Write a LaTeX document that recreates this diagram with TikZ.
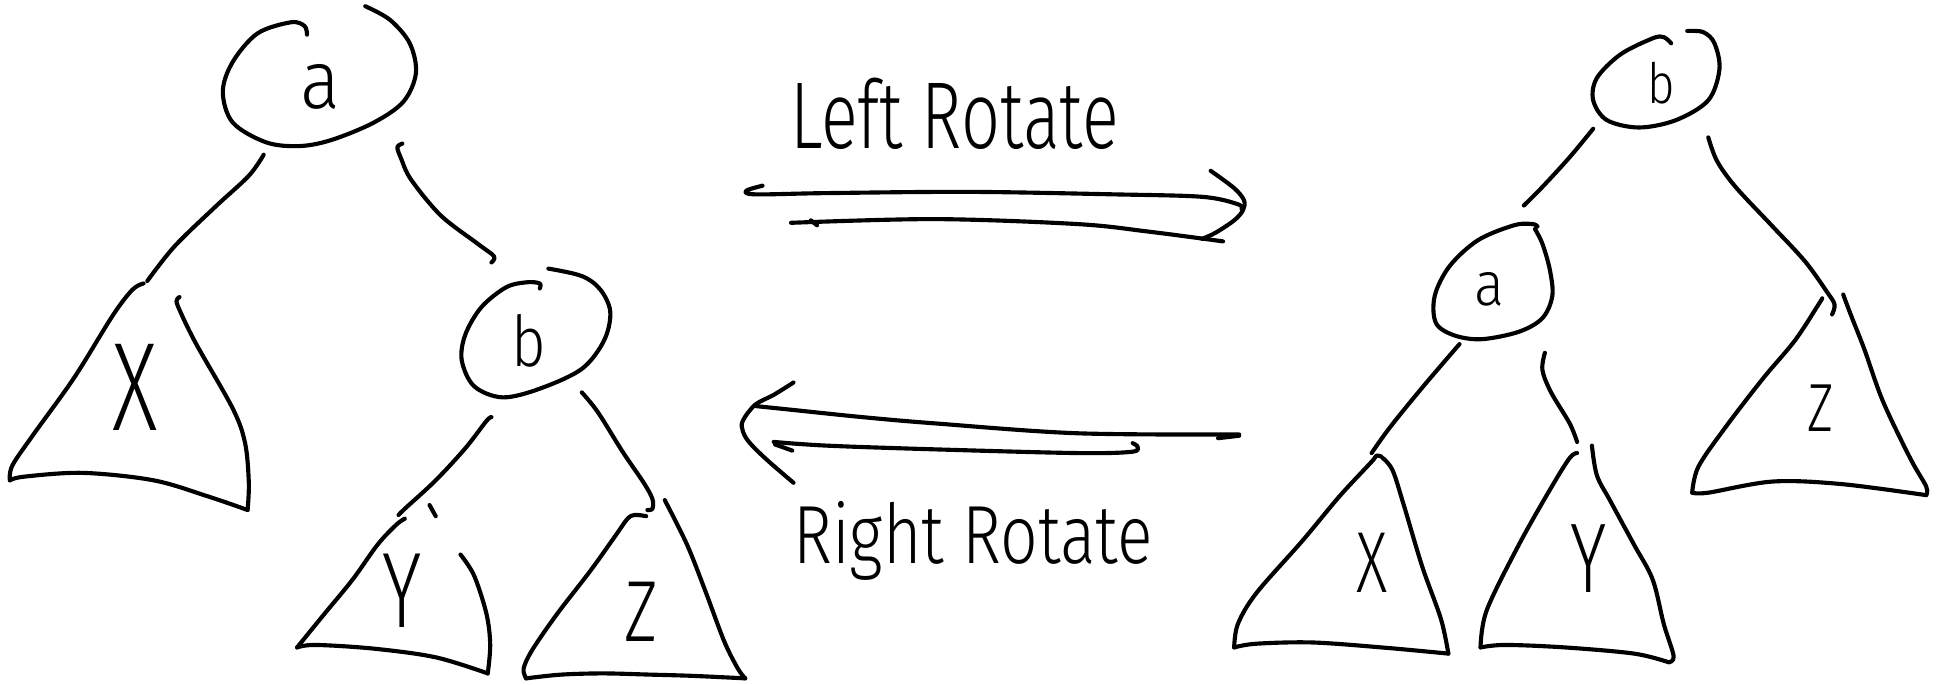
\documentclass[tikz,border=0pt]{standalone}
\usepackage{fontspec}
\setmainfont{Fira Sans Light}
\newcommand{\hw}[3]{\fontsize{#1}{#1}\selectfont\scalebox{#2}[1]{#3}}
\begin{document}
\begin{tikzpicture}[x=0.6pt,y=-0.6pt,
  sk/.style={line width=2pt,line cap=round,line join=round},
  lbl/.style={inner sep=0pt,outer sep=0pt}]
\useasboundingbox[fill=white] (0,0) rectangle (1568,553);

% ---------- left tree ----------
\node[lbl] (La) at (259,70) {\hw{40}{0.9}{a}};
\draw[sk] plot[smooth,tension=0.55] coordinates {(248,28) (246,21) (235,18) (208,27) (188,50) (180,74) (188,99) (215,115) (242,118) (268,113) (302,99) (326,82) (336,59) (331,35) (315,16) (295,5)};
\node[lbl] (Lb) at (427,275) {\hw{34}{0.85}{b}};
\draw[sk] plot[smooth,tension=0.55] coordinates {(436,233) (436,229) (426,228) (409,232) (389,248) (376,270) (373,291) (383,312) (406,321) (436,314) (470,298) (488,275) (493,252) (485,234) (470,223) (443,217)};

\coordinate (LaL1) at (213,125); \coordinate (LaL2) at (119,227);
\draw[sk] plot[smooth,tension=0.55] coordinates {(LaL1) (201,142) (174,167) (141,199) (LaL2)};
\coordinate (LaR1) at (325,116); \coordinate (LaR2) at (397,212);
\draw[sk] plot[smooth,tension=0.55] coordinates {(LaR1) (321,119) (324,128) (332,145) (356,174) (386,197) (399,207) (LaR2)};

% X subtree
\draw[sk] plot[smooth,tension=0.55] coordinates {(116,229) (107,234) (91,255) (60,305) (27,351) (10,376) (8,388)};
\draw[sk] plot[smooth,tension=0.55] coordinates {(8,388) (20,385) (67,382) (124,388) (168,401) (200,412)};
\draw[sk] plot[smooth,tension=0.55] coordinates {(200,412) (201,390) (198,358) (188,330) (158,277) (144,248) (143,242) (145,240)};
\node[lbl] (LX) at (109,313) {\hw{61}{0.7}{X}};

% b -> Y
\coordinate (LbL1) at (397,337); \coordinate (LbL2) at (322,416);
\draw[sk] plot[smooth,tension=0.55] coordinates {(LbL1) (393,340) (376,362) (352,388) (327,411) (LbL2)};
\draw[sk] (347,408) -- (352,417);
\draw[sk] plot[smooth,tension=0.55] coordinates {(327,419) (320,424) (305,440) (285,468) (262,496) (240,523)};
\draw[sk] plot[smooth,tension=0.55] coordinates {(240,523) (255,521) (302,524) (352,531) (394,544)};
\draw[sk] plot[smooth,tension=0.55] coordinates {(394,544) (396,521) (393,496) (383,465) (372,448)};
\node[lbl] (LY) at (325,477) {\hw{52}{0.7}{Y}};

% b -> Z
\coordinate (LbR1) at (470,317); \coordinate (LbR2) at (523,412);
\draw[sk] plot[smooth,tension=0.55] coordinates {(LbR1) (483,333) (503,365) (520,390) (527,403) (527,411) (LbR2)};
\draw[sk] plot[smooth,tension=0.55] coordinates {(522,417) (513,416) (507,419) (497,433) (477,461) (450,496) (430,525) (423,540) (425,548)};
\draw[sk] plot[smooth,tension=0.55] coordinates {(425,548) (453,545) (487,544) (526,545) (560,546) (602,548)};
\draw[sk] plot[smooth,tension=0.55] coordinates {(602,548) (596,540) (585,518) (570,478) (555,440) (537,404)};
\node[lbl] (LZ) at (518,494) {\hw{42}{0.75}{Z}};

% ---------- middle arrows ----------
\node[lbl,anchor=base] (LR) at (771,120) {\hw{46}{0.72}{Left Rotate}};
\coordinate (T1) at (616,150); \coordinate (T2) at (1003,169);
\draw[sk] plot[smooth,tension=0.55] coordinates {(T1) (603,154) (610,157) (668,156) (783,155) (899,157) (971,159) (1000,165) (T2)};
\draw[sk] plot[smooth,tension=0.55] coordinates {(978,138) (997,152) (1005,162) (1004,170) (997,178) (982,188) (971,193)};
\coordinate (T3) at (639,180); \coordinate (T4) at (988,195);
\draw[sk] plot[smooth,tension=0.55] coordinates {(T3) (755,177) (870,181) (927,187) (T4)};
\draw[sk] (655,178) -- (660,182);

\coordinate (B1) at (1001,351); \coordinate (B2) at (610,328);
\draw[sk] plot[smooth,tension=0.55] coordinates {(B1) (870,350) (755,342) (697,337) (639,331) (B2)};
\draw[sk] (984,354) -- (1001,352);
\draw[sk] plot[smooth,tension=0.55] coordinates {(641,309) (625,319) (610,327) (600,340) (600,348) (605,357) (619,371) (641,390)};
\coordinate (B3) at (625,357); \coordinate (B4) at (915,358);
\draw[sk] plot[smooth,tension=0.55] coordinates {(B3) (668,360) (755,363) (870,366) (914,365) (919,361) (B4)};
\draw[sk] (626,359) -- (640,364);
\node[lbl,anchor=base] (RR) at (786,455) {\hw{40}{0.8}{Right Rotate}};

% ---------- right tree ----------
\node[lbl] (Rb) at (1342,67) {\hw{27}{0.85}{b}};
\draw[sk] plot[smooth,tension=0.55] coordinates {(1350,35) (1344,30) (1335,31) (1309,44) (1290,63) (1287,81) (1298,97) (1324,103) (1354,97) (1380,81) (1389,56) (1385,35) (1376,26) (1363,25)};
\coordinate (RbL1) at (1287,104); \coordinate (RbL2) at (1231,166);
\draw[sk] plot[smooth,tension=0.55] coordinates {(RbL1) (1268,127) (1246,151) (RbL2)};
\coordinate (RbR1) at (1380,111); \coordinate (RbR2) at (1480,254);
\draw[sk] plot[smooth,tension=0.55] coordinates {(RbR1) (1387,130) (1402,151) (1432,183) (1458,211) (1476,236) (1482,246) (RbR2)};

\node[lbl] (Ra) at (1203,234) {\hw{30}{0.9}{a}};
\draw[sk] plot[smooth,tension=0.55] coordinates {(1242,183) (1238,181) (1223,182) (1194,194) (1171,215) (1159,239) (1160,261) (1175,271) (1197,274) (1227,268) (1246,257) (1254,239) (1252,218) (1246,197) (1240,185)};
\coordinate (RaL1) at (1179,278); \coordinate (RaL2) at (1108,366);
\draw[sk] plot[smooth,tension=0.55] coordinates {(RaL1) (1149,313) (1123,345) (RaL2)};
\coordinate (RaR1) at (1248,285); \coordinate (RaR2) at (1274,357);
\draw[sk] plot[smooth,tension=0.55] coordinates {(RaR1) (1246,299) (1253,317) (1268,342) (RaR2)};

% X subtree
\draw[sk] plot[smooth,tension=0.55] coordinates {(1116,369) (1112,368) (1108,373) (1082,401) (1052,437) (1015,479) (1000,504) (997,523)};
\draw[sk] plot[smooth,tension=0.55] coordinates {(997,523) (1015,520) (1060,519) (1116,523) (1170,528)};
\draw[sk] plot[smooth,tension=0.55] coordinates {(1170,528) (1164,500) (1149,458) (1134,408) (1125,380) (1117,370)};
\node[lbl] (RX) at (1108,455) {\hw{42}{0.7}{X}};

% Y subtree
\draw[sk] plot[smooth,tension=0.55] coordinates {(1274,366) (1268,370) (1253,394) (1227,440) (1201,493) (1196,523)};
\draw[sk] plot[smooth,tension=0.55] coordinates {(1196,523) (1216,521) (1264,523) (1320,528) (1348,535)};
\draw[sk] plot[smooth,tension=0.55] coordinates {(1348,535) (1352,530) (1344,504) (1335,468) (1320,440) (1301,405) (1290,384) (1286,360)};
\node[lbl] (RY) at (1283,451) {\hw{48}{0.7}{Y}};

% Z subtree
\draw[sk] plot[smooth,tension=0.55] coordinates {(1472,241) (1469,246) (1450,275) (1424,306) (1394,345) (1372,377) (1367,398)};
\draw[sk] plot[smooth,tension=0.55] coordinates {(1367,398) (1380,398) (1432,389) (1487,391) (1556,400)};
\draw[sk] plot[smooth,tension=0.55] coordinates {(1556,400) (1556,393) (1543,370) (1521,324) (1506,282) (1495,254) (1489,238)};
\node[lbl] (RZ) at (1471,330) {\hw{33}{0.75}{Z}};
\end{tikzpicture}
\end{document}
